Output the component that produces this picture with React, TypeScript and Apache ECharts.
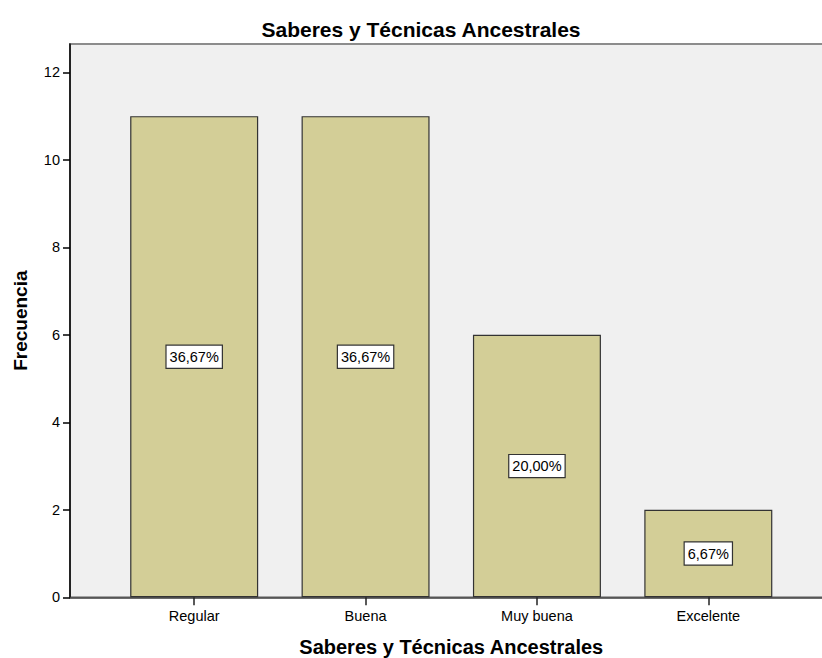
import React, { useEffect, useRef } from "react";
import * as echarts from "echarts";

const categories = ["Regular", "Buena", "Muy buena", "Excelente"];
const counts = [11, 11, 6, 2];
const percentLabels = ["36,67%", "36,67%", "20,00%", "6,67%"];
const yTicks = [0, 2, 4, 6, 8, 10, 12];
const titleText = "Saberes y Técnicas Ancestrales";
const xName = "Saberes y Técnicas Ancestrales";
const yName = "Frecuencia";

const FONT = "'Liberation Sans', Arial, sans-serif";

export default function App() {
  const ref = useRef<HTMLDivElement>(null);
  useEffect(() => {
    if (!ref.current) return;
    const chart = echarts.init(ref.current, null, { renderer: "svg" });
    const yMax = 12.65;
    chart.setOption({
      animation: false,
      backgroundColor: "#ffffff",
      title: {
        text: titleText,
        left: 416,
        top: 14,
        textAlign: "center",
        textStyle: { fontFamily: FONT, fontSize: 21, fontWeight: "bold", color: "#000" },
      },
      grid: [
        {
          left: 70,
          top: 44,
          right: -6,
          bottom: 60.7,
          show: true,
          backgroundColor: "#f0f0f0",
          borderColor: "#8c8c8c",
          borderWidth: 2,
          containLabel: false,
          outerBoundsMode: "none",
        },
        {
          left: 108.5,
          top: 44,
          right: 28,
          bottom: 60.7,
          containLabel: false,
          outerBoundsMode: "none",
        },
      ],
      xAxis: [
        {
          gridIndex: 0,
          type: "value",
          min: 0,
          max: 1,
          axisLine: { show: true, lineStyle: { color: "#444", width: 1.5 } },
          axisTick: { show: false },
          axisLabel: { show: false },
          splitLine: { show: false },
        },
        {
          gridIndex: 1,
          type: "category",
          data: categories,
          axisLine: { show: false },
          axisTick: { show: true, alignWithLabel: true, length: 8, lineStyle: { color: "#222", width: 1.5 } },
          axisLabel: { fontFamily: FONT, fontSize: 14.5, color: "#000", margin: 11 },
          name: xName,
          nameLocation: "middle",
          nameGap: 40,
          nameTextStyle: { fontFamily: FONT, fontSize: 20, fontWeight: "bold", color: "#000" },
        },
      ],
      yAxis: [
        {
          gridIndex: 0,
          type: "value",
          min: 0,
          max: yMax,
          axisLine: { show: true, lineStyle: { color: "#000", width: 1.5 } },
          axisTick: { show: true, length: 7, lineStyle: { color: "#000", width: 1.5 }, customValues: yTicks },
          axisLabel: { fontFamily: FONT, fontSize: 14.5, color: "#000", margin: 10, customValues: yTicks },
          splitLine: { show: false },
          name: yName,
          nameLocation: "middle",
          nameGap: 40,
          nameRotate: 90,
          nameTextStyle: { fontFamily: FONT, fontSize: 19, fontWeight: "bold", color: "#000" },
        },
        {
          gridIndex: 1,
          type: "value",
          min: 0,
          max: yMax,
          show: false,
          splitLine: { show: false },
        },
      ],
      series: [
        {
          type: "bar",
          xAxisIndex: 1,
          yAxisIndex: 1,
          data: counts,
          barWidth: 128,
          itemStyle: { color: "#d3ce97", borderColor: "#333", borderWidth: 1.2 },
          label: {
            show: true,
            position: "inside",
            formatter: (p: any) => percentLabels[p.dataIndex],
            fontFamily: FONT,
            fontSize: 14.5,
            color: "#000",
            backgroundColor: "#ffffff",
            borderColor: "#333",
            borderWidth: 1.2,
            padding: [4, 3, 3, 3],
          },
        },
      ],
    });
    return () => chart.dispose();
  }, []);
  return (
    <div
      ref={ref}
      style={{ position: "fixed", left: 0, top: 0, width: 822, height: 658 }}
    />
  );
}
